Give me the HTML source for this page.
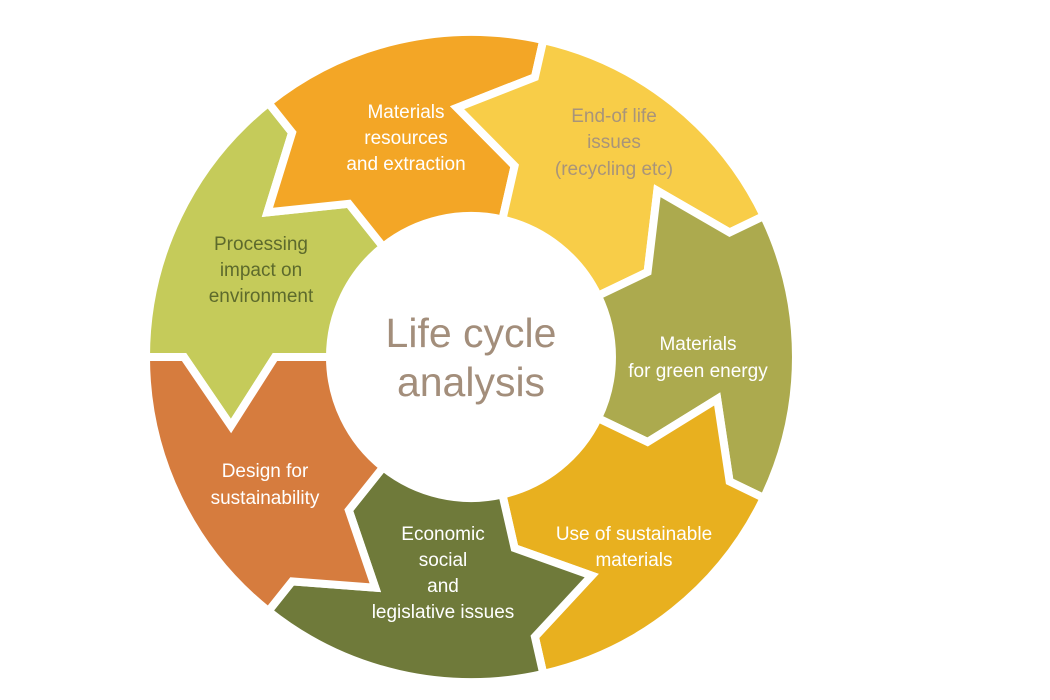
<!DOCTYPE html>
<html><head><meta charset="utf-8"><style>
html,body{margin:0;padding:0;background:#fff;width:1050px;height:700px;overflow:hidden}
svg{display:block}
text{font-family:"Liberation Sans",sans-serif;text-anchor:middle}
.s{font-size:19px;fill:#fff}
</style></head><body>
<svg id="sv" width="1050" height="700" viewBox="0 0 1050 700">
<g id="segs"></g>
<text x="471" y="347" style="font-size:41px;fill:#a38e7b">Life cycle</text>
<text x="471" y="396" style="font-size:41px;fill:#a38e7b">analysis</text>
<text class="s" x="261" y="250" style="fill:#5d6a2c">Processing</text>
<text class="s" x="261" y="276" style="fill:#5d6a2c">impact on</text>
<text class="s" x="261" y="302" style="fill:#5d6a2c">environment</text>
<text class="s" x="406" y="118">Materials</text>
<text class="s" x="406" y="144">resources</text>
<text class="s" x="406" y="170">and extraction</text>
<text class="s" x="614" y="122" style="fill:#a8947a">End-of life</text>
<text class="s" x="614" y="148" style="fill:#a8947a">issues</text>
<text class="s" x="614" y="175" style="fill:#a8947a">(recycling etc)</text>
<text class="s" x="698" y="350">Materials</text>
<text class="s" x="698" y="377">for green energy</text>
<text class="s" x="634" y="540">Use of sustainable</text>
<text class="s" x="634" y="566">materials</text>
<text class="s" x="443" y="540">Economic</text>
<text class="s" x="443" y="566">social</text>
<text class="s" x="443" y="592">and</text>
<text class="s" x="443" y="618">legislative issues</text>
<text class="s" x="265" y="477">Design for</text>
<text class="s" x="265" y="504">sustainability</text>
</svg>
<script>
(function(){
var cx=471,cy=357,R=325,r=141;
var cols=["#c5cb5a","#f3a626","#f8cd48","#acaa4e","#e8b01f","#6f7a3a","#d67c3e"];
var bp=[[325,0],[287,0],[240,-69],[196,0],[141,0]];
function pt(th,p){var a=th*Math.PI/180,u=[Math.cos(a),Math.sin(a)],v=[-Math.sin(a),Math.cos(a)];
return [(cx+p[0]*u[0]+p[1]*v[0]).toFixed(1),(cy+p[0]*u[1]+p[1]*v[1]).toFixed(1)];}
var g=document.getElementById("segs"),h="";
for(var k=0;k<7;k++){
var a=180+k*360/7,b=a+360/7;
var d="M"+pt(a,bp[0]).join(",");
d+=" A"+R+","+R+" 0 0 1 "+pt(b,bp[0]).join(",");
for(var i=1;i<5;i++)d+=" L"+pt(b,bp[i]).join(",");
d+=" A"+r+","+r+" 0 0 0 "+pt(a,bp[4]).join(",");
for(var i=3;i>=0;i--)d+=" L"+pt(a,bp[i]).join(",");
d+=" Z";
h+='<path d="'+d+'" fill="'+cols[k]+'" stroke="#fff" stroke-width="8" stroke-linejoin="miter"/>';
}
g.innerHTML=h;
})();
</script>
</body></html>
